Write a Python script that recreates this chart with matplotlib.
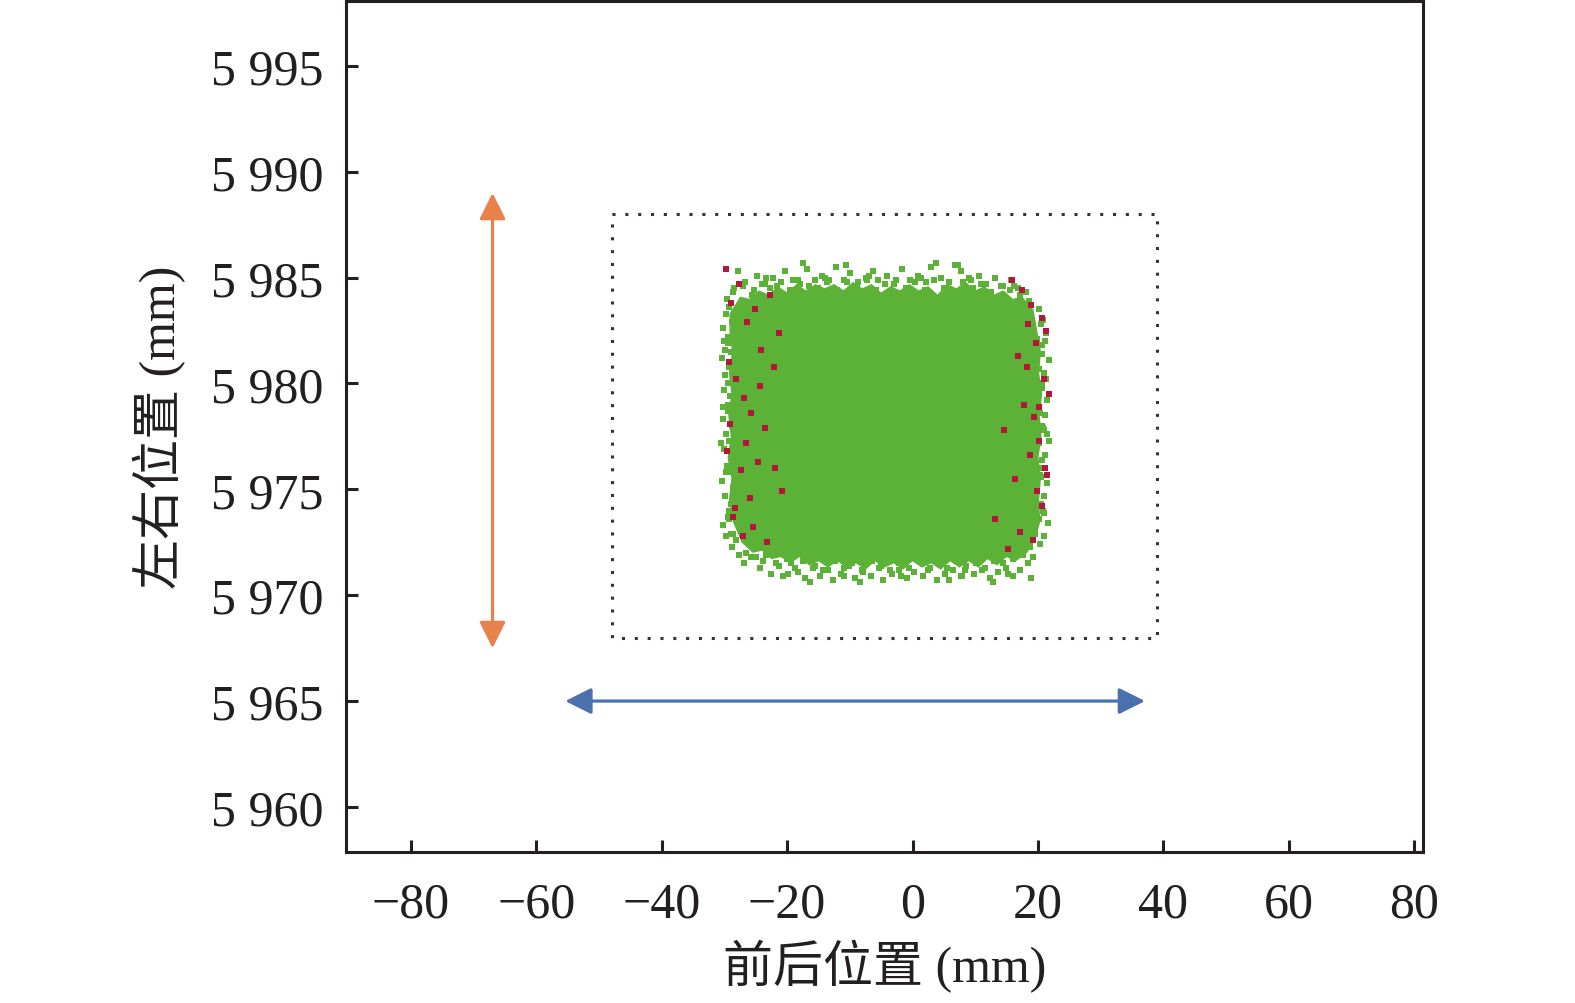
import matplotlib
matplotlib.use("Agg")
import matplotlib.pyplot as plt
from matplotlib.ticker import FixedLocator

plt.rcParams["font.family"] = ["Liberation Serif", "Noto Sans CJK SC"]
plt.rcParams["axes.unicode_minus"] = True

# axis ticks
x_ticks = [-80, -60, -40, -20, 0, 20, 40, 60, 80]
x_tick_labels = ["\u221280", "\u221260", "\u221240", "\u221220", "0", "20", "40", "60", "80"]
y_ticks = [5960, 5965, 5970, 5975, 5980, 5985, 5990, 5995]
y_tick_labels = ["5 960", "5 965", "5 970", "5 975", "5 980", "5 985", "5 990", "5 995"]

# dense core of the point cloud (outline)
core_x = [-29.2, -27.5, -26.0, -24.5, -23.0, -21.5, -20.0, -18.5, -17.0, -15.5, -14.0, -12.5,
          -11.0, -9.5, -8.0, -6.5, -5.0, -3.5, -2.0, -0.5, 1.0, 2.5, 4.0, 5.5, 7.0, 8.5, 10.0,
          11.5, 13.0, 14.5, 16.0, 17.5, 19.3,
          19.9, 20.5, 20.2, 20.7, 20.3, 20.6, 20.1, 20.5, 20.2, 20.4, 19.6,
          18.3, 16.5, 15.0, 13.5, 12.0, 10.5, 9.0, 7.5, 6.0, 4.5, 3.0, 1.5, 0.0, -1.5, -3.0,
          -4.5, -6.0, -7.5, -9.0, -10.5, -12.0, -13.5, -15.0, -16.5, -18.0, -19.5, -21.0,
          -22.5, -24.0, -25.5, -27.3,
          -28.7, -29.3, -28.9, -29.5, -29.0, -29.4, -28.9, -29.3, -28.8, -29.2]
core_y = [5983.3, 5984.1, 5984.0, 5984.4, 5984.2, 5984.6, 5984.3, 5984.7, 5984.4, 5984.7, 5984.5,
          5984.7, 5984.4, 5984.8, 5984.5, 5984.7, 5984.3, 5984.6, 5984.4, 5984.7, 5984.4, 5984.6,
          5984.2, 5984.7, 5984.5, 5984.8, 5984.4, 5984.6, 5984.2, 5984.4, 5984.0, 5984.1, 5983.5,
          5982.5, 5981.5, 5980.5, 5979.5, 5978.5, 5977.5, 5976.5, 5975.5, 5974.5, 5973.5, 5972.6,
          5972.0, 5971.6, 5971.8, 5971.4, 5971.7, 5971.3, 5971.6, 5971.3, 5971.6, 5971.2, 5971.5,
          5971.3, 5971.6, 5971.2, 5971.5, 5971.3, 5971.6, 5971.2, 5971.5, 5971.3, 5971.6, 5971.3,
          5971.6, 5971.4, 5971.8, 5971.5, 5971.8, 5971.7, 5972.1, 5972.0, 5972.5,
          5973.5, 5974.5, 5975.5, 5976.5, 5977.5, 5978.5, 5979.5, 5980.5, 5981.5, 5982.4]

# loose green points around the core, outer ring
top_x = [-29.6, -28.4, -27.9, -26.7, -25.3, -24.8, -23.5, -22.2, -21.6, -20.3, -19.1, -18.0,
         -16.9, -15.6, -14.4, -13.7, -12.2, -11.0, -9.9, -8.7, -7.4, -6.3, -5.5, -4.1, -2.9,
         -1.6, -0.4, 0.9, 2.2, 3.0, 4.6, 5.9, 6.7, 7.8, 9.3, 10.6, 11.8, 13.1, 14.5, 15.7,
         16.9, 18.1, -17.4, -10.6, 3.8, 7.3]
top_y = [5984.0, 5984.5, 5985.3, 5984.8, 5984.4, 5985.1, 5984.7, 5985.0, 5984.6, 5985.3, 5984.9,
         5984.7, 5985.4, 5984.9, 5985.1, 5984.8, 5985.5, 5984.9, 5985.2, 5984.8, 5985.0, 5985.3,
         5984.9, 5985.1, 5984.7, 5985.4, 5984.9, 5985.1, 5984.8, 5985.5, 5985.0, 5984.8, 5985.6,
         5985.3, 5984.9, 5985.1, 5984.7, 5985.0, 5984.6, 5984.9, 5984.5, 5984.3, 5985.7, 5985.6,
         5985.7, 5985.6]
bottom_x = [-28.8, -27.6, -26.9, -25.7, -24.4, -23.8, -22.5, -21.3, -20.6, -19.4, -18.2, -17.1,
            -15.9, -14.8, -13.5, -12.7, -11.4, -10.2, -9.1, -7.9, -6.6, -5.4, -4.7, -3.3, -2.1,
            -0.9, 0.3, 1.6, 2.8, 3.9, 5.2, 6.4, 7.7, 8.6, 9.8, 11.1, 12.3, 13.6, 14.9, 16.0,
            17.2, 18.4, 19.3, -16.3, -8.4, 5.8, 12.9, 18.9]
bottom_y = [5972.3, 5971.9, 5971.5, 5971.8, 5971.3, 5971.6, 5971.0, 5971.4, 5970.9, 5971.5,
            5971.1, 5970.8, 5971.3, 5970.9, 5971.2, 5970.7, 5971.0, 5971.4, 5970.8, 5971.1,
            5970.9, 5971.3, 5970.7, 5971.0, 5971.2, 5970.8, 5971.1, 5970.9, 5971.3, 5970.7,
            5971.0, 5971.2, 5970.9, 5971.4, 5971.0, 5971.2, 5970.8, 5971.1, 5971.3, 5970.9,
            5971.2, 5971.5, 5971.8, 5970.6, 5970.6, 5970.7, 5970.6, 5970.8]
left_x = [-29.8, -30.2, -29.5, -30.4, -29.9, -30.1, -29.4, -30.3, -29.7, -30.0, -29.6, -30.4,
          -29.9, -29.3, -30.2, -29.8, -30.5, -29.5, -30.0, -29.7, -30.3, -29.4, -29.9, -28.9]
left_y = [5983.3, 5982.6, 5981.9, 5981.2, 5980.4, 5979.7, 5979.0, 5978.3, 5977.6, 5976.9,
          5976.1, 5975.4, 5974.7, 5974.0, 5973.3, 5972.8, 5977.2, 5980.0, 5982.0, 5975.8,
          5978.9, 5973.7, 5981.6, 5972.9]
right_x = [20.8, 21.3, 20.6, 21.7, 21.0, 20.7, 21.5, 21.1, 20.9, 21.8, 21.2, 20.6, 21.4, 21.0,
           20.8, 21.6, 20.9, 21.3, 20.7, 21.1, 20.5, 21.4, 20.9, 20.3]
right_y = [5983.0, 5982.4, 5981.8, 5981.1, 5980.5, 5979.8, 5979.2, 5978.5, 5977.8, 5977.3,
           5976.6, 5976.0, 5975.3, 5974.7, 5974.0, 5973.4, 5972.8, 5980.2, 5978.0, 5982.0,
           5975.6, 5977.6, 5973.9, 5972.4]

# green points, inner ring next to the core
inner_top_x = [-28.7, -27.1, -25.6, -24.0, -22.7, -21.0, -19.6, -18.2, -16.5, -15.1, -13.4,
               -12.0, -10.4, -8.9, -7.3, -5.8, -4.4, -2.6, -1.1, 0.4, 2.0, 3.5, 5.1, 6.3, 8.0,
               9.6, 11.0, 12.6, 14.1, 15.5, 17.2, 18.6, -23.3, -14.0, -6.9, 1.3, 9.0, 16.2]
inner_top_y = [5984.3, 5984.6, 5984.2, 5984.7, 5984.5, 5984.8, 5984.4, 5984.9, 5984.6, 5984.5,
               5984.9, 5984.4, 5984.8, 5984.5, 5984.9, 5984.4, 5984.7, 5984.9, 5984.5, 5984.8,
               5984.4, 5984.9, 5984.5, 5984.3, 5984.8, 5984.5, 5984.7, 5984.3, 5984.6, 5984.4,
               5984.2, 5983.9, 5985.0, 5985.0, 5985.1, 5985.0, 5985.0, 5984.6]
inner_bottom_x = [-28.2, -26.5, -25.0, -23.3, -21.8, -20.1, -18.7, -17.4, -15.6, -14.2, -12.4,
                  -11.0, -9.6, -8.1, -6.4, -5.0, -3.6, -2.2, -0.6, 1.0, 2.4, 4.1, 5.5, 7.0,
                  8.4, 10.1, 11.6, 13.0, 14.5, 16.0, 17.6, 18.8, -19.8, -10.9, -1.9, 7.9, 15.2]
inner_bottom_y = [5972.6, 5972.0, 5971.8, 5971.9, 5971.5, 5971.7, 5971.3, 5971.6, 5971.4,
                  5971.2, 5971.6, 5971.3, 5971.5, 5971.2, 5971.6, 5971.4, 5971.2, 5971.5,
                  5971.3, 5971.6, 5971.2, 5971.5, 5971.3, 5971.6, 5971.2, 5971.5, 5971.3,
                  5971.6, 5971.5, 5971.7, 5971.9, 5972.3, 5971.0, 5970.9, 5970.9, 5970.9, 5971.0]
inner_left_x = [-29.2, -28.8, -29.4, -28.9, -29.3, -28.7, -29.1, -29.5, -28.8, -29.2, -28.9,
                -29.4, -28.6, -29.0, -29.3, -28.7]
inner_left_y = [5983.6, 5982.9, 5982.2, 5981.5, 5980.8, 5980.1, 5979.4, 5978.7, 5978.0, 5977.3,
                5976.5, 5975.8, 5975.1, 5974.3, 5973.6, 5972.9]
inner_right_x = [20.1, 20.5, 19.9, 20.6, 20.2, 20.7, 20.0, 20.4, 20.8, 20.1, 20.6, 20.3, 19.8,
                 20.5, 20.2, 19.6]
inner_right_y = [5983.5, 5982.8, 5982.1, 5981.4, 5980.7, 5980.0, 5979.3, 5978.6, 5977.9,
                 5977.2, 5976.4, 5975.7, 5975.0, 5974.3, 5973.6, 5972.9]

# red points near the left and right edges
red_x = [-29.8, -28.9, -27.6, -26.4, -25.2, -24.1, -22.8, -21.3, -29.3, -28.1, -26.9, -25.7,
         -23.6, -22.1, -29.6, -27.4, -26.0, -24.7, -20.8, -28.6, -27.0, -25.4, -23.2, -29.1,
         -26.6, -24.3, -21.9, -28.3,
         15.8, 17.4, 18.9, 20.6, 21.3, 19.7, 16.9, 18.2, 20.9, 21.7, 17.8, 19.4, 14.6, 20.2,
         18.7, 21.2, 16.4, 19.9, 20.7, 13.2, 17.1, 19.2, 21.5, 15.3, 18.4, 20.1]
red_y = [5985.4, 5983.8, 5984.7, 5982.9, 5983.5, 5981.6, 5984.2, 5982.4, 5981.0, 5980.2, 5979.3,
         5978.6, 5977.9, 5980.8, 5976.8, 5975.9, 5974.6, 5976.3, 5974.9, 5973.7, 5972.8, 5973.2,
         5972.5, 5978.1, 5977.2, 5979.9, 5976.0, 5974.1,
         5984.9, 5984.4, 5983.7, 5983.1, 5982.5, 5981.9, 5981.3, 5980.8, 5980.2, 5979.5, 5979.0,
         5978.4, 5977.8, 5977.3, 5976.6, 5976.0, 5975.5, 5974.9, 5974.2, 5973.6, 5973.0, 5972.6,
         5975.7, 5972.2, 5982.8, 5978.9]

# dotted working range box
box_x = [-48, 39, 39, -48, -48]
box_y = [5988, 5988, 5968, 5968, 5988]

# range arrows
lr_arrow_x = -67
lr_arrow_y = (5967.5, 5989.0)
fb_arrow_y = 5965
fb_arrow_x = (-55.4, 37.1)


def main():
    green = "#5cb236"
    red = "#b3183c"

    fig = plt.figure(figsize=(15.75, 10.04), dpi=100)
    ax = fig.add_axes([0.2197, 0.1504, 0.6838, 0.8481])

    ax.fill(core_x, core_y, color=green, lw=0, zorder=2)
    groups = [(top_x, top_y), (bottom_x, bottom_y), (left_x, left_y), (right_x, right_y),
              (inner_top_x, inner_top_y), (inner_bottom_x, inner_bottom_y),
              (inner_left_x, inner_left_y), (inner_right_x, inner_right_y)]
    for xs, ys in groups:
        ax.scatter(xs, ys, s=22, marker="s", color=green, linewidths=0, zorder=3)
    ax.scatter(red_x, red_y, s=18, marker="s", color=red, linewidths=0, zorder=4)

    ax.plot(box_x, box_y, color="#333333", lw=2.2, linestyle=(0, (1, 3.2)), zorder=1)

    ax.annotate("", xy=(lr_arrow_x, lr_arrow_y[1]), xytext=(lr_arrow_x, lr_arrow_y[0]),
                arrowprops=dict(arrowstyle="<|-|>,head_length=0.8,head_width=0.4",
                                mutation_scale=20, color="#e8814b", lw=2.3,
                                shrinkA=0, shrinkB=0))
    ax.annotate("", xy=(fb_arrow_x[1], fb_arrow_y), xytext=(fb_arrow_x[0], fb_arrow_y),
                arrowprops=dict(arrowstyle="<|-|>,head_length=0.8,head_width=0.4",
                                mutation_scale=20, color="#4a70ad", lw=2.3,
                                shrinkA=0, shrinkB=0))

    ax.set_xlim(-90.37, 81.44)
    ax.set_ylim(5957.87, 5998.09)
    ax.xaxis.set_major_locator(FixedLocator(x_ticks))
    ax.set_xticklabels(x_tick_labels)
    ax.yaxis.set_major_locator(FixedLocator(y_ticks))
    ax.set_yticklabels(y_tick_labels)

    for sp in ax.spines.values():
        sp.set_linewidth(2.2)
        sp.set_color("#231f20")
    ax.tick_params(direction="in", length=8.5, width=2.2, color="#231f20",
                   labelsize=36, labelcolor="#231f20")
    ax.tick_params(axis="x", pad=21)
    ax.tick_params(axis="y", pad=16)

    ax.set_xlabel("前后位置 (mm)", fontsize=36, color="#231f20", labelpad=8)
    ax.set_ylabel("左右位置 (mm)", fontsize=36, color="#231f20", labelpad=18)

    fig.savefig("out.png", dpi=100)


if __name__ == "__main__":
    main()
